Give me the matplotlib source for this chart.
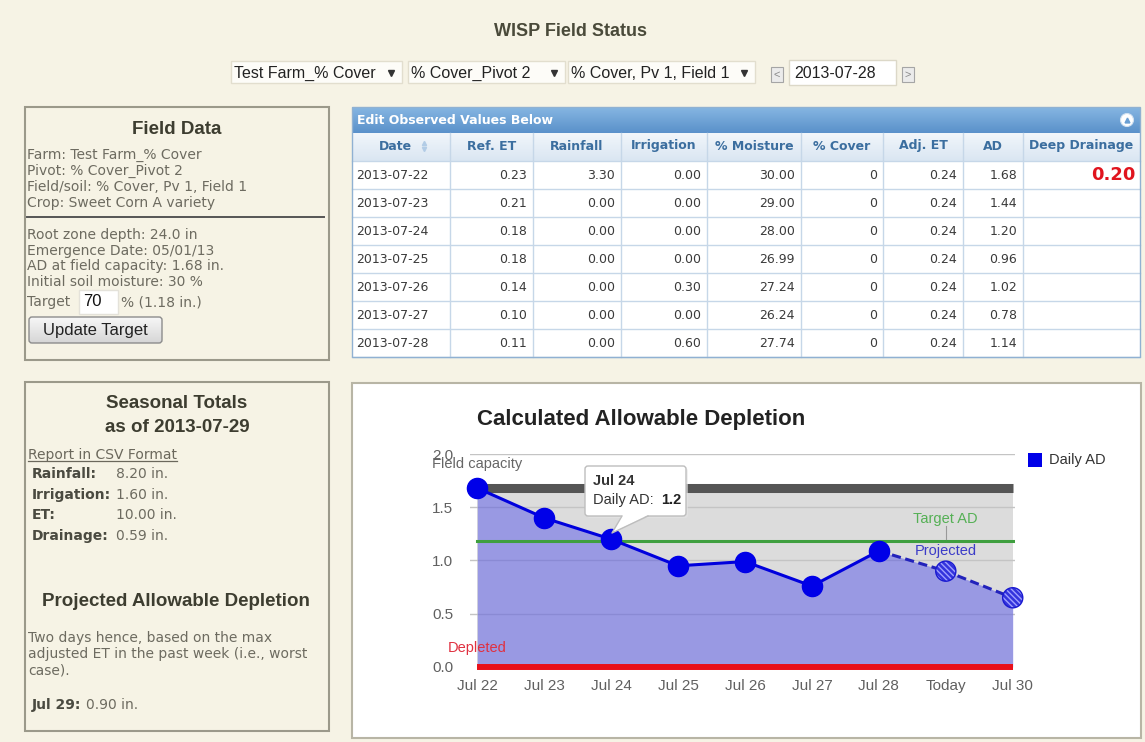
import numpy as np
import matplotlib
import matplotlib.pyplot as plt
from matplotlib.patches import Rectangle, FancyBboxPatch, Polygon, Circle

plt.rcParams['font.family'] = ['Liberation Sans', 'DejaVu Sans']

# ---- page header ----
page_title = 'WISP Field Status'
selectors = ['Test Farm_% Cover', '% Cover_Pivot 2', '% Cover, Pv 1, Field 1']
current_date = '2013-07-28'

# ---- field data panel ----
field_info = ['Farm: Test Farm_% Cover', 'Pivot: % Cover_Pivot 2',
              'Field/soil: % Cover, Pv 1, Field 1', 'Crop: Sweet Corn A variety']
soil_info = ['Root zone depth: 24.0 in', 'Emergence Date: 05/01/13',
             'AD at field capacity: 1.68 in.', 'Initial soil moisture: 30 %']
target_pct = 70
target_in = 1.18

# ---- seasonal totals panel ----
totals_date = '2013-07-29'
total_names = ['Rainfall:', 'Irrigation:', 'ET:', 'Drainage:']
total_values = [8.20, 1.60, 10.00, 0.59]
proj_text = ['Two days hence, based on the max',
             'adjusted ET in the past week (i.e., worst',
             'case).']
proj_day = 'Jul 29'
proj_value = 0.90

# ---- observed values table ----
col_names = ['Date', 'Ref. ET', 'Rainfall', 'Irrigation', '% Moisture',
             '% Cover', 'Adj. ET', 'AD', 'Deep Drainage']
dates = ['2013-07-22', '2013-07-23', '2013-07-24', '2013-07-25',
         '2013-07-26', '2013-07-27', '2013-07-28']
ref_et = [0.23, 0.21, 0.18, 0.18, 0.14, 0.10, 0.11]
rainfall = [3.30, 0.00, 0.00, 0.00, 0.00, 0.00, 0.00]
irrigation = [0.00, 0.00, 0.00, 0.00, 0.30, 0.00, 0.60]
moisture = [30.00, 29.00, 28.00, 26.99, 27.24, 26.24, 27.74]
cover = [0, 0, 0, 0, 0, 0, 0]
adj_et = [0.24, 0.24, 0.24, 0.24, 0.24, 0.24, 0.24]
ad_table = [1.68, 1.44, 1.20, 0.96, 1.02, 0.78, 1.14]
deep_drainage = [0.20, None, None, None, None, None, None]

# ---- chart ----
days = ['Jul 22', 'Jul 23', 'Jul 24', 'Jul 25', 'Jul 26', 'Jul 27', 'Jul 28', 'Today', 'Jul 30']
daily_ad = [1.68, 1.40, 1.20, 0.95, 0.99, 0.76, 1.09]
projected_ad = [0.90, 0.65]
field_capacity = 1.68
target_ad = 1.18
tip_idx = 2

# layout (pixels)
W, H = 1145, 742
bg = '#f6f3e5'
col_edges = [352, 450, 533, 621, 707, 801, 883, 963, 1023, 1140]
row_top, row_h = 161, 28
txt_grey = '#6d6b60'

fig = plt.figure(figsize=(W / 100, H / 100), dpi=100, facecolor=bg)
ax = fig.add_axes([0, 0, 1, 1])
ax.axis('off')


def gradient(a, x0, y0, x1, y1, c_top, c_bot, z=1, clip=None):
    t = np.linspace(0, 1, 40)[:, None, None]
    img = np.array(matplotlib.colors.to_rgb(c_top)) * (1 - t) + np.array(matplotlib.colors.to_rgb(c_bot)) * t
    im = a.imshow(img, extent=(x0, x1, y1, y0), aspect='auto', zorder=z, interpolation='bilinear')
    if clip is not None:
        im.set_clip_path(clip)


# header
ax.text(570, 32, page_title, ha='center', va='center', fontsize=13, fontweight='bold', color='#4a4a3a')
sel_boxes = [(231, 402), (408, 565), (568, 755)]
for (x0, x1), label in zip(sel_boxes, selectors):
    ax.add_patch(Rectangle((x0, 61), x1 - x0, 22, fc='#fdfcf8', ec='#e2dece', lw=1))
    ax.text(x0 + 3, 73, label, va='center', fontsize=11.5, color='#222222')
    ax.plot(x1 - 11, 73, marker='v', ms=4, color='#333333')
for bx, sym in [(771, '<'), (902, '>')]:
    ax.add_patch(Rectangle((bx, 67), 12, 15, fc='#ebebeb', ec='#a5a5a5', lw=0.8))
    ax.text(bx + 6, 74.5, sym, ha='center', va='center', fontsize=8, color='#888888')
ax.add_patch(Rectangle((789, 60), 107, 25, fc='white', ec='#dcd8c8', lw=1))
ax.text(794, 73, current_date, va='center', fontsize=11.5, color='#222222')

# field data panel
ax.add_patch(Rectangle((25, 107), 304, 253, fc='none', ec='#9b998a', lw=1.5))
ax.text(177, 129, 'Field Data', ha='center', va='center', fontsize=13.5, fontweight='bold', color='#3d3d30')
for i, line in enumerate(field_info):
    ax.text(27, 155 + 16 * i, line, va='center', fontsize=10, family='DejaVu Sans', color=txt_grey)
ax.plot([27, 324], [217, 217], color='#555555', lw=1.4)
for i, line in enumerate(soil_info):
    ax.text(27, 235 + 15.7 * i, line, va='center', fontsize=10, family='DejaVu Sans', color=txt_grey)
ax.text(27, 302, 'Target', va='center', fontsize=10, family='DejaVu Sans', color=txt_grey)
ax.add_patch(Rectangle((79, 290), 39, 24, fc='white', ec='#e4e2da', lw=1))
ax.text(83, 302, str(target_pct), va='center', fontsize=12, color='#111111')
ax.text(121, 302, '%% (%.2f in.)' % target_in, va='center', fontsize=10, family='DejaVu Sans', color=txt_grey)
btn = FancyBboxPatch((29, 317), 133, 26, boxstyle='round,pad=0,rounding_size=3',
                     fc='none', ec='#8c8c8c', lw=1, zorder=3)
ax.add_patch(btn)
gradient(ax, 29, 317, 162, 343, '#f7f7f7', '#d6d6d6', z=2, clip=btn)
ax.text(95.5, 330, 'Update Target', ha='center', va='center', fontsize=12, color='#222222', zorder=4)

# seasonal totals panel
ax.add_patch(Rectangle((25, 382), 304, 349, fc='none', ec='#9b998a', lw=1.5))
ax.text(177, 404, 'Seasonal Totals', ha='center', va='center', fontsize=13.5, fontweight='bold', color='#3d3d30')
ax.text(177, 428, 'as of ' + totals_date, ha='center', va='center', fontsize=13.5, fontweight='bold', color='#3d3d30')
csv_txt = ax.text(28, 455, 'Report in CSV Format', va='center', fontsize=10, family='DejaVu Sans', color='#6b685c')
for i, (name, val) in enumerate(zip(total_names, total_values)):
    y = 474 + 20.7 * i
    ax.text(32, y, name, va='center', fontsize=10, family='DejaVu Sans', fontweight='bold', color='#4a4a40')
    ax.text(116, y, '%.2f in.' % val, va='center', fontsize=10, family='DejaVu Sans', color=txt_grey)
ax.text(176, 602, 'Projected Allowable Depletion', ha='center', va='center', fontsize=13.5,
        fontweight='bold', color='#3d3d30')
for i, line in enumerate(proj_text):
    ax.text(28, 638 + 16 * i, line, va='center', fontsize=10, family='DejaVu Sans', color=txt_grey)
day_txt = ax.text(32, 705, proj_day + ':', va='center', fontsize=10, family='DejaVu Sans',
                  fontweight='bold', color='#4a4a40')

# observed values table
gradient(ax, col_edges[0], 107, col_edges[-1], 133, '#86b6e2', '#5a91ca')
ax.text(357, 120, 'Edit Observed Values Below', va='center', fontsize=9, family='DejaVu Sans',
        fontweight='bold', color='white', zorder=3)
ax.add_patch(Circle((1127, 120), 6.5, fc='white', ec='#d0e0f0', lw=0.8, zorder=3))
ax.plot(1127, 119.5, marker='^', ms=3.5, color='#6a9fd3', zorder=4)
gradient(ax, col_edges[0], 133, col_edges[-1], row_top, '#f1f6fb', '#dae6f2')
ax.add_patch(Rectangle((col_edges[0], row_top), col_edges[-1] - col_edges[0], row_h * len(dates),
                       fc='white', ec='none', zorder=1))
for k in range(len(dates) + 1):
    ax.plot([col_edges[0], col_edges[-1]], [row_top + row_h * k] * 2, color='#c6d7e8', lw=1, zorder=2)
for xe in col_edges[1:-1]:
    ax.plot([xe, xe], [133, row_top + row_h * len(dates)], color='#c6d7e8', lw=1, zorder=2)
ax.add_patch(Rectangle((col_edges[0], 107), col_edges[-1] - col_edges[0], row_top + row_h * len(dates) - 107,
                       fc='none', ec='#90b1d2', lw=1, zorder=3))
for j, name in enumerate(col_names):
    cx = (col_edges[j] + col_edges[j + 1]) / 2
    if j == 0:
        cx -= 6
    ax.text(cx, 146, name, ha='center', va='center', fontsize=9, family='DejaVu Sans',
            fontweight='bold', color='#3b6e9f', zorder=3)
ax.plot(424, 143, marker='^', ms=3, color='#b2cce6', zorder=3)
ax.plot(424, 149, marker='v', ms=3, color='#b2cce6', zorder=3)

columns = [ref_et, rainfall, irrigation, moisture, cover, adj_et, ad_table]
fmts = ['%.2f', '%.2f', '%.2f', '%.2f', '%d', '%.2f', '%.2f']
for i, d in enumerate(dates):
    y = row_top + row_h * i + 14.5
    ax.text(col_edges[0] + 4, y, d, va='center', fontsize=9, family='DejaVu Sans', color='#3a3a3a', zorder=3)
    for j, (vals, f) in enumerate(zip(columns, fmts)):
        ax.text(col_edges[j + 2] - 6, y, f % vals[i], ha='right', va='center', fontsize=9,
                family='DejaVu Sans', color='#3a3a3a', zorder=3)
    if deep_drainage[i] is not None:
        ax.text(col_edges[-1] - 5, y, '%.2f' % deep_drainage[i], ha='right', va='center', fontsize=13,
                family='DejaVu Sans', fontweight='bold', color='#e0141e', zorder=3)

# chart panel
ax.add_patch(Rectangle((352, 383), 789, 355, fc='white', ec='#b8b5a5', lw=1.5, zorder=0))
ax.text(477, 419, 'Calculated Allowable Depletion', va='center', fontsize=16, fontweight='bold', color='#222222')
ax.add_patch(Rectangle((1028, 453), 14, 14, fc='#0000e8', ec='none'))
ax.text(1049, 460, 'Daily AD', va='center', fontsize=10.5, color='#333333')

ax.set_xlim(0, W)
ax.set_ylim(H, 0)

# chart axes: Jul 22 at x=477px, Jul 30 at 1013px; 0.0 at y=667px, 2.0 at 454px
ax2 = fig.add_axes([470 / W, 1 - 672 / H, (1015 - 470) / W, (672 - 454) / H], facecolor='none')
x = np.arange(len(days))
n_obs = len(daily_ad)
all_y = daily_ad + projected_ad
proj_x = x[n_obs - 1:]
proj_y = [daily_ad[-1]] + projected_ad

ax2.fill_between([x[0], x[-1]], 0, field_capacity, color='#dcdcdc', lw=0, zorder=0.5)
for yv in [0.5, 1.0, 1.5, 2.0]:
    ax2.axhline(yv, color='#c4c4c4', lw=1, zorder=1)
ax2.fill_between(x, 0, all_y, color=(40 / 255, 40 / 255, 241 / 255), alpha=0.37, lw=0, zorder=2)
ax2.plot([x[0], x[-1]], [field_capacity] * 2, color='#555555', lw=6.5, solid_capstyle='butt', zorder=3)
ax2.plot([x[0], x[-1]], [0, 0], color='#e8101a', lw=4.3, solid_capstyle='butt', zorder=3)
ax2.plot([x[0], x[-1]], [target_ad] * 2, color='#3f9f3f', lw=2.2, zorder=3)
ax2.plot(proj_x, proj_y, color='#2222bb', lw=2.2, ls=(0, (3, 1.5)), zorder=4)
ax2.plot(x[:n_obs], daily_ad, color='#0000dd', lw=2.2, marker='o', ms=14.5,
         mfc='#0000e8', mec='#0000e8', zorder=5, clip_on=False)
ax2.scatter(x[n_obs:], projected_ad, s=210, fc='#3434dc', ec='#a0a0ff', hatch='\\\\\\\\\\\\', lw=0,
            zorder=6, clip_on=False)
ax2.scatter(x[n_obs:], projected_ad, s=210, fc='none', ec='#1a1ad0', lw=1, zorder=7, clip_on=False)

ax2.text(-0.68, 1.91, 'Field capacity', va='center', fontsize=10.5, color='#666666', clip_on=False)
ax2.text(0, 0.18, 'Depleted', ha='center', va='center', fontsize=10.5, color='#e03040', zorder=6)
ax2.text(7, 1.39, 'Target AD', ha='center', va='center', fontsize=10.5, color='#55b055', zorder=6)
ax2.plot([7, 7], [1.32, 1.20], color='#999999', lw=0.8, zorder=3)
ax2.text(7, 1.09, 'Projected', ha='center', va='center', fontsize=10.5, color='#3c3cc8', zorder=6)

ax2.set_xlim(-0.109, 8.034)
ax2.set_ylim(-0.047, 2.0)
ax2.set_xticks(x, days)
ax2.set_yticks([0, 0.5, 1.0, 1.5, 2.0], ['0.0', '0.5', '1.0', '1.5', '2.0'])
ax2.tick_params(length=0, labelsize=11, colors='#606060')
ax2.tick_params(axis='y', pad=12)
ax2.tick_params(axis='x', pad=5)
for s in ax2.spines.values():
    s.set_visible(False)

# tooltip overlay (pixel coords)
ax3 = fig.add_axes([0, 0, 1, 1], facecolor='none')
ax3.axis('off')
ax3.add_patch(FancyBboxPatch((587, 468), 101, 50, boxstyle='round,pad=0,rounding_size=3',
                             fc='#e6e6e6', ec='none', alpha=0.6, zorder=0.5))
ax3.add_patch(FancyBboxPatch((585, 466), 101, 50, boxstyle='round,pad=0,rounding_size=3',
                             fc='white', ec='#bdbdbd', lw=1, zorder=1))
ax3.add_patch(Polygon([(622, 515), (648, 515), (612, 533)], closed=True, fc='white', ec='none', zorder=2))
ax3.plot([622, 612, 648], [516, 533, 516], color='#bdbdbd', lw=1, zorder=3)
ax3.text(593, 481, days[tip_idx], va='center', fontsize=10.5, fontweight='bold', color='#333333', zorder=4)
ax3.text(593, 500, 'Daily AD: ', va='center', fontsize=10.5, color='#333333', zorder=4)
ax3.text(661, 500, '%.1f' % daily_ad[tip_idx], va='center', fontsize=10.5, fontweight='bold',
         color='#222222', zorder=4)
ax3.set_xlim(0, W)
ax3.set_ylim(H, 0)

# underline for the CSV link and value after "Jul 29:"
fig.canvas.draw()
inv = ax.transData.inverted()
bb = csv_txt.get_window_extent()
(ux0, uy0), (ux1, uy1) = inv.transform([[bb.x0, bb.y0], [bb.x1, bb.y1]])
ax.plot([ux0, ux1], [uy0 - 1, uy0 - 1], color='#6b685c', lw=0.9)
bb = day_txt.get_window_extent()
dx1 = inv.transform([[bb.x1, bb.y0]])[0][0]
ax.text(dx1 + 5, 705, '%.2f in.' % proj_value, va='center', fontsize=10, family='DejaVu Sans', color=txt_grey)

fig.savefig('out.png', dpi=100, facecolor=bg)
